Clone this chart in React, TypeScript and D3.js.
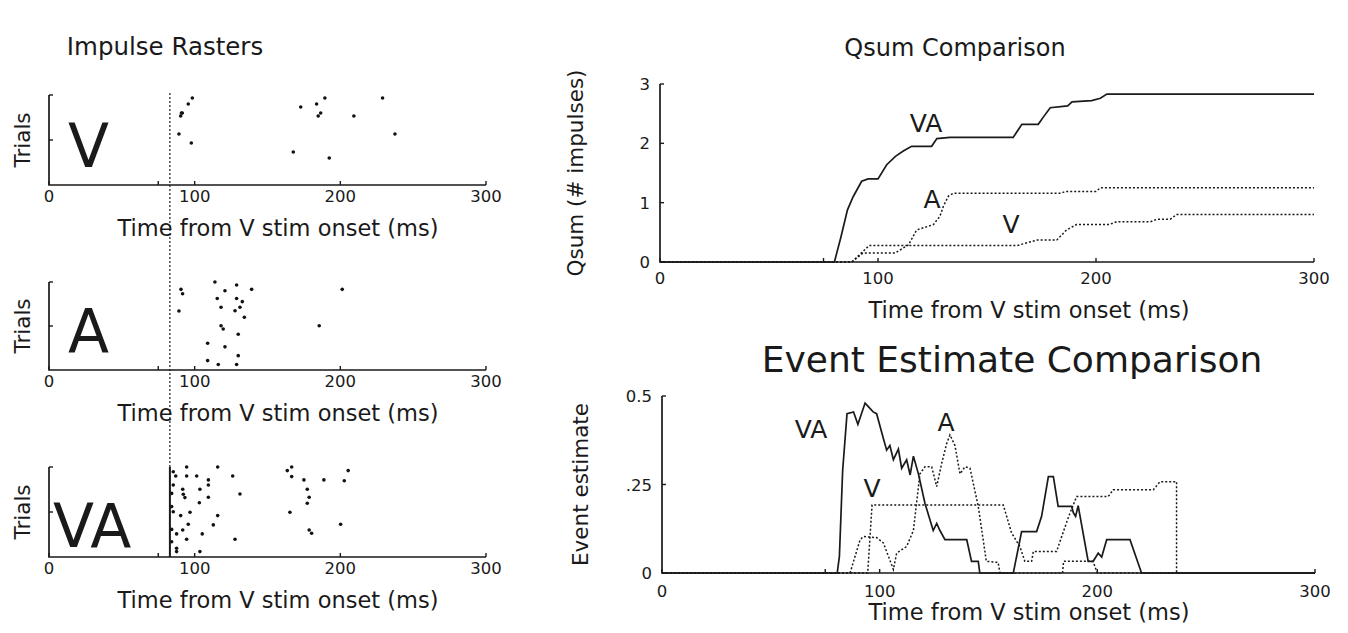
import React, { useEffect, useRef } from 'react';
import * as d3 from 'd3';

const W = 1348;
const H = 633;
const FONT = '"DejaVu Sans", "Liberation Sans", sans-serif';
const INK = '#1a1a1a';

// tick values
const timeTicks = [0, 100, 200, 300];
const markTicks = [75];
const stimOnset = 83;
const trialTicks = [15, 30];
const qsumTicks = [0, 1, 2, 3];
const eventTicks = [0, 0.25, 0.5];
const eventTickLabels = ['0', '.25', '0.5'];

// raster spikes: [ms, trial]
const spikesV = [
  [98.4, 29], [95.6, 27], [91.5, 24], [90.9, 24], [90.4, 23], [89.2, 17], [97.7, 14],
  [172.8, 26], [183.7, 27], [189.4, 29], [186.5, 24], [184.8, 23], [209.3, 23],
  [229.0, 29], [237.5, 17], [167.7, 11], [192.4, 9],
];
const spikesA = [
  [113.9, 30], [128.8, 29], [120.8, 27], [139.1, 27.5], [90.6, 27.5], [91.7, 26],
  [201.3, 27.5], [115.5, 24.4], [128.8, 24.4], [132.7, 23.3], [118.1, 21.4], [131.1, 21.4],
  [127.7, 20.2], [89.2, 20.1], [134.1, 18], [118.1, 15.1], [119.6, 14], [185.5, 15.1],
  [129.9, 12.2], [108.9, 9.1], [120.8, 7.9], [129.9, 4.9], [108.9, 3.2], [116.2, 1.9],
  [128.8, 1.9],
];
const spikesVA = [
  [94.5, 30], [115.8, 30], [166.6, 30], [163.6, 28.8], [205.4, 28.8], [85.3, 28.4],
  [94.5, 27], [101.4, 27], [87, 27], [126.1, 27], [166.6, 26.8], [109.4, 25.7],
  [175, 25.7], [188.7, 25.7], [202.7, 25.4], [109.4, 24], [85.3, 24], [91.8, 22.6],
  [103.6, 22.6], [177.3, 22.6], [84.2, 21.2], [92.2, 20.9], [93.3, 19.8], [109.4, 19.9],
  [131.1, 21], [178.6, 19.9], [103.2, 18.1], [177.3, 17.9], [84.2, 16.8], [85.3, 15.1],
  [96.8, 14.9], [90.4, 13.8], [115.8, 13.8], [165.4, 14.9], [95.6, 10.9], [112.8, 10.7],
  [200.2, 10.9], [84.2, 9.2], [91.8, 9], [105.2, 7.7], [87.6, 7.7], [178.6, 9],
  [180.3, 7.9], [94.5, 5.9], [127.7, 5.9], [84.2, 5.1], [87.6, 2.9], [87.6, 1.8],
  [103.6, 1.8],
];

// cumulative sums: [ms, impulses]
const qsumVA = [
  [0, 0], [80, 0], [83, 0.42], [86, 0.88], [88.6, 1.1], [92.5, 1.36], [95.5, 1.4], [100, 1.4],
  [104, 1.64], [108, 1.78], [111.6, 1.87], [115.4, 1.95], [124.6, 1.95], [127, 2.08],
  [133, 2.1], [162, 2.1], [166, 2.32], [173.5, 2.32], [176, 2.45], [179, 2.6], [187, 2.63],
  [189, 2.7], [198, 2.72], [202, 2.76], [205, 2.83], [300, 2.83],
];
const qsumA = [
  [0, 0], [88, 0], [93, 0.15], [107.8, 0.15], [114, 0.29], [117.7, 0.54], [125.4, 0.63],
  [128.4, 0.77], [130, 0.94], [132.3, 1.11], [134.6, 1.16], [184, 1.16], [186, 1.19],
  [200, 1.19], [202, 1.25], [300, 1.25],
];
const qsumV = [
  [0, 0], [88, 0], [92, 0.14], [96, 0.28], [164, 0.28], [170, 0.34], [173, 0.37], [182, 0.37],
  [186.5, 0.54], [191, 0.63], [206, 0.63], [209.5, 0.68], [225, 0.68], [228, 0.72],
  [234, 0.72], [237, 0.8], [300, 0.8],
];

// event estimates: [ms, estimate]
const eventVA = [
  [0, 0], [80.5, 0], [81.5, 0.047], [83, 0.29], [85, 0.45], [88, 0.455], [90, 0.42],
  [93.3, 0.48], [94.8, 0.47], [97, 0.455], [98.6, 0.45], [101.7, 0.38], [103.2, 0.347],
  [104.7, 0.36], [106.3, 0.32], [108.6, 0.35], [110.1, 0.296], [112.4, 0.32], [114, 0.277],
  [115.5, 0.33], [117.8, 0.28], [120.8, 0.197], [124.6, 0.12], [126.2, 0.14], [127.7, 0.12],
  [130, 0.094], [140, 0.094], [142.2, 0.033], [145.3, 0.033], [146, 0], [161.4, 0],
  [165.2, 0.117], [172.1, 0.117], [174.4, 0.16], [177.5, 0.272], [179.8, 0.272], [182, 0.188],
  [188.2, 0.188], [189, 0.17], [190, 0.16], [191.2, 0.19], [195.8, 0.033], [198.1, 0.033],
  [200.4, 0.056], [202, 0.045], [204.3, 0.094], [215, 0.094], [220.3, 0], [300, 0],
];
const eventA = [
  [0, 0], [86.4, 0], [91, 0.094], [92.5, 0.103], [98.6, 0.1], [101.7, 0.085], [106.3, 0.01],
  [107.8, 0.056], [112.4, 0.075], [115.5, 0.12], [118.5, 0.28], [120.8, 0.3], [123.9, 0.3],
  [126.2, 0.244], [128.5, 0.31], [130.8, 0.366], [132.3, 0.39], [134.6, 0.36], [136.9, 0.28],
  [139.2, 0.3], [141.5, 0.296], [145.3, 0.188], [149, 0.033], [154.4, 0.03], [155.3, 0],
  [184, 0], [184.5, 0.033], [198, 0.033], [200, 0], [300, 0],
];
const eventV = [
  [0, 0], [94.5, 0], [96.5, 0.192], [156.8, 0.192], [160.6, 0.113], [164.4, 0.075],
  [166.7, 0.033], [169.8, 0.033], [170.6, 0.061], [181.3, 0.061], [184.4, 0.117],
  [187.4, 0.169], [190.5, 0.216], [205, 0.216], [207.3, 0.235], [225.7, 0.235],
  [228.8, 0.258], [236.4, 0.258], [236.4, 0], [300, 0],
];

function drawAxes(g, x, y, opts) {
  const [x0, x1] = x.range();
  const [yb, yt] = y.range();
  g.append('path')
    .attr('d', `M${x0},${yt}L${x0},${yb}L${x1},${yb}`)
    .attr('fill', 'none').attr('stroke', INK).attr('stroke-width', 1.7);
  opts.xTicks.concat(markTicks).forEach(t => {
    g.append('line').attr('x1', x(t)).attr('x2', x(t))
      .attr('y1', yb).attr('y2', yb - 4)
      .attr('stroke', INK).attr('stroke-width', 1.4);
  });
  opts.xTicks.forEach(t => {
    g.append('text').attr('x', x(t)).attr('y', yb + opts.xLabelDy)
      .attr('text-anchor', 'middle').attr('font-size', 16.5).text(t);
  });
  opts.yTicks.forEach((t, i) => {
    g.append('line').attr('x1', x0).attr('x2', x0 + 4)
      .attr('y1', y(t)).attr('y2', y(t))
      .attr('stroke', INK).attr('stroke-width', 1.4);
    if (opts.yLabels) {
      g.append('text').attr('x', x0 - 10).attr('y', y(t) + 6)
        .attr('text-anchor', 'end').attr('font-size', 16.5).text(opts.yLabels[i]);
    }
  });
}

function App() {
  const ref = useRef(null);

  useEffect(() => {
    const svg = d3.select(ref.current);
    svg.selectAll('*').remove();
    const root = svg.append('g').attr('font-family', FONT).attr('fill', INK);

    // ---- Impulse rasters ----
    root.append('text').attr('x', 165).attr('y', 55).attr('text-anchor', 'middle')
      .attr('font-size', 24.5).text('Impulse Rasters');

    const rx = d3.scaleLinear().domain([0, 300]).range([49, 486]);
    const panels = [
      { name: 'V', spikes: spikesV, top: 95, bottom: 185, lx: 68 },
      { name: 'A', spikes: spikesA, top: 282, bottom: 370, lx: 68 },
      { name: 'VA', spikes: spikesVA, top: 467, bottom: 557, lx: 53 },
    ];
    panels.forEach(p => {
      const ry = d3.scaleLinear().domain([0, 30]).range([p.bottom, p.top]);
      const g = root.append('g');
      drawAxes(g, rx, ry, { xTicks: timeTicks, yTicks: trialTicks, xLabelDy: 17 });
      g.selectAll('circle').data(p.spikes).enter().append('circle')
        .attr('cx', d => rx(d[0])).attr('cy', d => ry(d[1]))
        .attr('r', 1.8).attr('fill', '#111');
      g.append('text').attr('x', p.lx).attr('y', p.bottom - (p.name === 'VA' ? 10 : 18))
        .attr('font-size', 60).text(p.name);
      g.append('text').attr('transform', `translate(30,${(p.top + p.bottom) / 2}) rotate(-90)`)
        .attr('text-anchor', 'middle').attr('font-size', 21.5).text('Trials');
      g.append('text').attr('x', 278).attr('y', p.bottom + 51)
        .attr('text-anchor', 'middle').attr('font-size', 22.5).text('Time from V stim onset (ms)');
    });
    // stimulus onset marker across the rasters
    root.append('line').attr('x1', rx(stimOnset)).attr('x2', rx(stimOnset))
      .attr('y1', 93).attr('y2', 467)
      .attr('stroke', INK).attr('stroke-width', 1.2).attr('stroke-dasharray', '2,2');
    root.append('line').attr('x1', rx(stimOnset)).attr('x2', rx(stimOnset))
      .attr('y1', 467).attr('y2', 557)
      .attr('stroke', INK).attr('stroke-width', 2);

    // ---- Qsum comparison ----
    const qx = d3.scaleLinear().domain([0, 300]).range([660, 1314]);
    const qy = d3.scaleLinear().domain([0, 3]).range([262, 84]);
    const qg = root.append('g');
    root.append('text').attr('x', 955).attr('y', 56).attr('text-anchor', 'middle')
      .attr('font-size', 24).text('Qsum Comparison');
    drawAxes(qg, qx, qy, { xTicks: timeTicks, yTicks: qsumTicks, yLabels: qsumTicks.map(String), xLabelDy: 22 });
    const qline = d3.line().x(d => qx(d[0])).y(d => qy(d[1]));
    qg.append('path').attr('d', qline(qsumVA)).attr('fill', 'none')
      .attr('stroke', INK).attr('stroke-width', 1.7);
    [qsumA, qsumV].forEach(s => {
      qg.append('path').attr('d', qline(s)).attr('fill', 'none')
        .attr('stroke', INK).attr('stroke-width', 1.5).attr('stroke-dasharray', '2,2');
    });
    qg.append('text').attr('x', 926).attr('y', 132).attr('text-anchor', 'middle').attr('font-size', 25).text('VA');
    qg.append('text').attr('x', 932).attr('y', 208).attr('text-anchor', 'middle').attr('font-size', 25).text('A');
    qg.append('text').attr('x', 1011).attr('y', 233).attr('text-anchor', 'middle').attr('font-size', 25).text('V');
    qg.append('text').attr('x', 1029).attr('y', 318).attr('text-anchor', 'middle')
      .attr('font-size', 22.5).text('Time from V stim onset (ms)');
    qg.append('text').attr('transform', `translate(583,${qy(1.5)}) rotate(-90)`)
      .attr('text-anchor', 'middle').attr('font-size', 21.5).text('Qsum (# impulses)');

    // ---- Event estimate comparison ----
    const ex = d3.scaleLinear().domain([0, 300]).range([662, 1315]);
    const ey = d3.scaleLinear().domain([0, 0.5]).range([573, 396]);
    const eg = root.append('g');
    root.append('text').attr('x', 1012).attr('y', 372).attr('text-anchor', 'middle')
      .attr('font-size', 36).text('Event Estimate Comparison');
    drawAxes(eg, ex, ey, { xTicks: timeTicks, yTicks: eventTicks, yLabels: eventTickLabels, xLabelDy: 24 });
    const eline = d3.line().x(d => ex(d[0])).y(d => ey(d[1]));
    eg.append('path').attr('d', eline(eventVA)).attr('fill', 'none')
      .attr('stroke', INK).attr('stroke-width', 1.7);
    [eventA, eventV].forEach(s => {
      eg.append('path').attr('d', eline(s)).attr('fill', 'none')
        .attr('stroke', INK).attr('stroke-width', 1.5).attr('stroke-dasharray', '2,2');
    });
    eg.append('text').attr('x', 811).attr('y', 438).attr('text-anchor', 'middle').attr('font-size', 25).text('VA');
    eg.append('text').attr('x', 946).attr('y', 431).attr('text-anchor', 'middle').attr('font-size', 25).text('A');
    eg.append('text').attr('x', 872).attr('y', 497).attr('text-anchor', 'middle').attr('font-size', 25).text('V');
    eg.append('text').attr('x', 1029).attr('y', 620).attr('text-anchor', 'middle')
      .attr('font-size', 22.5).text('Time from V stim onset (ms)');
    eg.append('text').attr('transform', `translate(588,${ey(0.25)}) rotate(-90)`)
      .attr('text-anchor', 'middle').attr('font-size', 21.5).text('Event estimate');
  }, []);

  return (
    <svg ref={ref} width={W} height={H}
      style={{ position: 'absolute', left: 0, top: 0, background: '#fff' }} />
  );
}

export default App;
